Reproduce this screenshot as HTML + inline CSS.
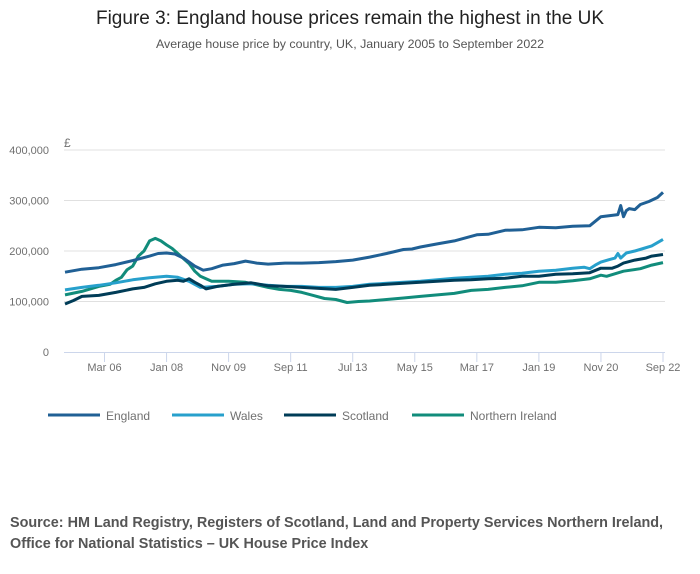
<!DOCTYPE html>
<html><head><meta charset="utf-8"><style>
body{margin:0;width:700px;height:574px;background:#fff;font-family:"Liberation Sans",sans-serif;overflow:hidden}
svg{position:absolute;left:0;top:0}
</style></head><body>
<svg width="700" height="574">
<text x="350" y="24" text-anchor="middle" font-size="19" fill="#222">Figure 3: England house prices remain the highest in the UK</text>
<text x="350" y="48" text-anchor="middle" font-size="12.4" fill="#555">Average house price by country, UK, January 2005 to September 2022</text>
<g id="grid"></g><g id="axes"></g><g id="lines"></g><g id="legend"></g>
<text x="10" y="527" font-size="14.4" font-weight="bold" fill="#555">Source: HM Land Registry, Registers of Scotland, Land and Property Services Northern Ireland,</text>
<text x="10" y="548" font-size="14.4" font-weight="bold" fill="#555">Office for National Statistics – UK House Price Index</text>
</svg>
<script>
const yTicks=[0,100000,200000,300000,400000];
const yTickLabels=["0","100,000","200,000","300,000","400,000"];
const xTickMonths=[14,36,58,80,102,124,146,168,190,212];
const xTickLabels=["Mar 06","Jan 08","Nov 09","Sep 11","Jul 13","May 15","Mar 17","Jan 19","Nov 20","Sep 22"];
const seriesNames=["England","Wales","Scotland","Northern Ireland"];
const englandMonths=[0,6,12,18,24,30,33,36,39,42,46,49,52,56,60,64,68,72,78,84,90,96,102,108,114,120,123,126,132,138,146,150,156,162,168,174,180,186,190,196,197,198,199,200,202,204,207,210,212];
const englandValues=[158,164,167,173,181,190,195,196,194,186,170,162,165,172,175,180,176,174,176,176,177,179,182,188,195,203,204,208,214,220,232,233,241,242,247,246,249,250,268,272,290,268,280,284,282,292,298,306,316];
const walesMonths=[0,6,12,18,24,30,36,40,44,48,54,60,66,72,78,84,90,96,102,108,114,120,126,132,138,144,150,156,162,168,174,180,184,186,188,190,193,195,196,197,199,202,205,208,212];
const walesValues=[123,128,132,137,143,147,150,148,140,128,130,134,135,132,130,130,128,128,130,134,136,138,140,143,146,148,150,154,156,160,162,166,168,165,172,178,183,186,195,186,196,200,205,210,223];
const scotlandMonths=[0,3,6,12,18,24,28,32,36,40,42,44,46,48,50,54,60,66,72,78,84,90,96,102,108,114,120,126,132,138,144,150,156,162,168,174,180,186,190,194,196,198,202,206,208,212];
const scotlandValues=[95,102,110,112,118,125,128,135,140,142,140,145,138,132,125,130,134,137,131,130,128,126,124,128,132,134,136,138,140,142,143,145,146,150,150,154,155,157,166,166,170,176,182,186,190,193];
const niMonths=[0,6,12,16,18,20,22,24,26,28,30,32,34,36,38,40,42,44,46,48,50,52,58,64,68,72,76,80,84,88,92,96,100,104,108,114,120,126,132,138,144,150,156,162,168,174,180,186,190,192,198,204,208,212];
const niValues=[113,120,130,134,142,148,163,170,190,200,220,225,220,212,205,195,185,175,160,150,145,140,140,138,133,128,124,122,118,112,106,104,98,100,101,104,107,110,113,116,122,124,128,131,138,138,141,145,152,150,160,165,172,177];
const colors=["#206095","#27a0cc","#003c57","#118c7b"];
const X0=65,X1=663,Y0=352,Y400=150;
const xs=m=>X0+(X1-X0)*m/212;
const ys=v=>Y0-(Y0-Y400)*v/400000;
const NS="http://www.w3.org/2000/svg";
function mk(t,a,p){const e=document.createElementNS(NS,t);for(const k in a)e.setAttribute(k,a[k]);p.appendChild(e);return e;}
const grid=document.getElementById('grid'),axes=document.getElementById('axes'),lines=document.getElementById('lines'),legend=document.getElementById('legend');
yTicks.forEach((v,i)=>{
 if(i>0){const g=mk('line',{x1:X0-1,x2:X1+2,y1:ys(v),y2:ys(v),stroke:'#e0e0e0','stroke-width':1},grid);
 
 }
 const t=mk('text',{x:49,y:ys(v)+4,'text-anchor':'end','font-size':11,fill:'#707070'},axes);t.textContent=yTickLabels[i];
 
 
});
const pound=mk('text',{x:64,y:147,'font-size':12,fill:'#707070'},axes);pound.textContent='£';


const ax=mk('line',{x1:X0-1,x2:X1+2,y1:Y0+0.5,y2:Y0+0.5,stroke:'#ccd6eb','stroke-width':1},axes);


xTickMonths.forEach((m,i)=>{
 const tk=mk('line',{x1:xs(m),x2:xs(m),y1:Y0,y2:Y0+10,stroke:'#ccd6eb'},axes);
 
 
 const t=mk('text',{x:xs(m),y:371,'text-anchor':'middle','font-size':11,fill:'#707070'},axes);t.textContent=xTickLabels[i];
 
 
});
const data=[[englandMonths,englandValues],[walesMonths,walesValues],[scotlandMonths,scotlandValues],[niMonths,niValues]];
const order=[3,1,2,0];
order.forEach(i=>{
 const [ms,vs]=data[i];
 const d=ms.map((m,j)=>(j?'L':'M')+xs(m).toFixed(1)+' '+ys(vs[j]*1000).toFixed(1)).join(' ');
 const p=mk('path',{d:d,fill:'none',stroke:colors[i],'stroke-width':3,'stroke-linejoin':'round'},lines);
 
 
});
const lx=[48,172,284,412];
seriesNames.forEach((n,i)=>{
 const g=mk('g',{},legend);
 
 
 mk('line',{x1:lx[i],x2:lx[i]+52,y1:415,y2:415,stroke:colors[i],'stroke-width':3},g);
 const t=mk('text',{x:lx[i]+58,y:420,'font-size':12,fill:'#707070'},g);t.textContent=n;
});
</script>
</body></html>
